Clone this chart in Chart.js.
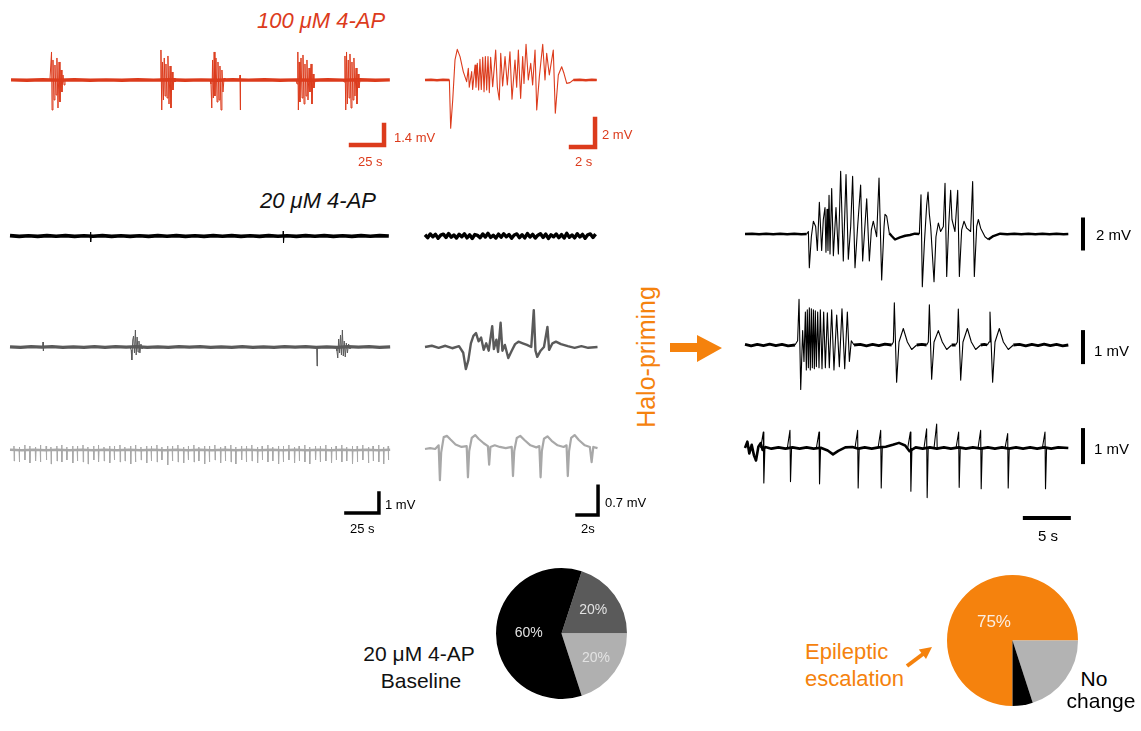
<!DOCTYPE html>
<html><head><meta charset="utf-8">
<script src="https://cdn.jsdelivr.net/npm/chart.js@4.4.0/dist/chart.umd.min.js"></script>
<style>
html,body{margin:0;padding:0;background:#fff;}
body{width:1141px;height:731px;overflow:hidden;position:relative;font-family:"Liberation Sans",Arial,Helvetica,sans-serif;}
canvas{position:absolute;}
.t{position:absolute;white-space:nowrap;line-height:1;}
svg{position:absolute;left:0;top:0;}
</style></head><body>
<svg width="1141" height="731">
  <polygon points="670,343 697,343 697,335 722,348 697,362 697,352 670,352" fill="#f5820d"/>
  <line x1="907" y1="666" x2="923" y2="654" stroke="#f5820d" stroke-width="4"/>
  <polygon points="932,647 926,659 918.8,649.5" fill="#f5820d"/>
</svg>
<script>
// ---------------- DATA (time in s, voltage in mV) ----------------
// 100 uM 4-AP, long recording (red)
const redLongBase = [[0,0.01],[12,-0.02],[24,0.02],[36,-0.01],[48,0.02],[60,-0.02],[72,0.01],[84,-0.02],[96,0.02],[108,-0.01],[120,0.02],[132,-0.02],[144,0.01],[156,-0.02],[168,0.02],[180,-0.01],[192,0.02],[204,-0.02],[216,0.01],[228,-0.02],[240,0.02],[252,-0.01],[264,0.02],[276,-0.02],[287,0.01]];
const redBurst1 = [[29.5,0],[30.7,1.96],[31.1,-2.10],[31.8,1.40],[32.6,-1.40],[33.3,1.05],[34.1,-1.05],[34.8,1.54],[35.6,-1.96],[36.4,1.26],[37.1,-1.54],[37.9,0.70],[38.6,-0.84],[39.4,0.35],[40.2,-0.35],[40.9,0]];
const redBurst2 = [[112.9,0],[113.6,2.10],[114.2,-2.10],[114.8,1.26],[115.5,-1.40],[116.1,1.54],[116.7,-1.12],[117.4,1.12],[118.2,-1.26],[118.9,1.68],[119.7,-1.68],[120.5,0.98],[121.2,-1.96],[122.0,0.56],[122.7,-0.70],[123.5,0.14],[124.2,-0.14],[125.0,0]];
const redBurst3 = [[150.8,0],[151.5,-0.28],[152.1,-1.96],[152.7,1.40],[153.3,-1.26],[153.9,1.96],[154.5,-1.12],[155.3,1.54],[156.1,-1.54],[156.8,1.26],[157.6,-1.40],[158.3,0.98],[159.1,-2.10],[159.8,0.70],[160.6,-0.84],[161.4,0.14],[162.1,0]];
const redSpike = [[173.2,0],[173.5,0.35],[173.7,-2.10],[173.9,0]];
const redBurst4 = [[215.9,0],[216.7,-0.28],[217.3,1.96],[217.7,-2.10],[218.3,1.26],[218.9,-1.54],[219.7,1.54],[220.5,-1.26],[221.2,1.75],[222.0,-1.68],[222.7,1.12],[223.5,-1.12],[224.2,1.40],[225.0,-1.40],[225.8,0.84],[226.5,-0.84],[227.3,1.12],[228.0,-1.68],[228.8,0.42],[229.5,-0.56],[230.3,0]];
const redBurst5 = [[251.5,0],[252.3,-0.14],[253.0,1.68],[253.6,-2.10],[254.2,1.96],[254.8,-1.68],[255.5,1.40],[256.1,-1.26],[256.8,1.82],[257.6,-1.96],[258.3,1.26],[259.1,-1.40],[259.8,1.54],[260.6,-1.12],[261.4,0.84],[262.1,-1.68],[262.9,0.42],[263.6,-0.56],[264.4,0]];
// 100 uM 4-AP, single event (red)
const redZoomQuiet1 = [[0,0],[0.5,0.02],[1.0,-0.02],[1.5,0.02],[2.03,0]];
const redZoomQuiet2 = [[12.36,0],[12.9,0.02],[13.4,-0.02],[13.9,0.02],[14.31,0]];
const redZoom = [[0,0],[2.03,0],[2.14,-3.45],[2.31,-1.43],[2.5,1.43],[2.69,2.19],[2.92,1.67],[3.19,0.60],[3.47,-0.12],[3.61,0.83],[3.69,-0.52],[3.89,0.60],[3.97,-0.67],[4.17,1.07],[4.25,-0.52],[4.36,1.19],[4.47,-0.71],[4.58,1.48],[4.69,-0.67],[4.81,1.62],[4.92,-0.83],[5.03,1.67],[5.14,-0.71],[5.25,1.67],[5.36,-0.90],[5.47,1.62],[5.64,-0.48],[5.89,2.14],[6.03,-0.52],[6.19,-1.43],[6.31,1.90],[6.47,-0.43],[6.67,1.67],[6.86,-0.36],[7.08,2.02],[7.25,-1.38],[7.5,1.43],[7.64,-0.52],[7.78,2.14],[7.97,-1.31],[8.14,1.67],[8.25,-0.24],[8.42,2.55],[8.61,0],[8.81,1.19],[8.97,-0.36],[9.17,2.14],[9.31,-2.14],[9.53,0.24],[9.81,2.55],[10.0,0],[10.14,1.90],[10.36,0.36],[10.69,2.14],[10.86,-2.38],[11.11,0.36],[11.39,0.95],[11.58,0.48],[11.81,-0.24],[12.08,-0.19],[12.36,0],[14.31,0]];

// 20 uM 4-AP baseline, row 1 (black)
const blackLongDt = 7;
const blackLongVals = [0.02,-0.02,0.01,-0.02,0.02,-0.01,0.02,-0.02,0.01,-0.01,0.02,-0.02,0.01,-0.02,0.01,-0.02,0.02,-0.01,0.02,-0.02,0.01,-0.02,0.02,-0.01,0.02,-0.02,0.01,-0.02,0.02,-0.01,0.01,-0.02,0.02,-0.01,0.02,-0.02,0.01,-0.02,0.02,-0.01,0.02,0.0];
const blackLongSpikes = [[61,0.2,-0.3],[207,0.25,-0.35]];
const blackZoomDt = 0.25;
const blackZoomVals = [0.03,-0.04,0.05,-0.02,0.04,-0.055,0.02,0.045,-0.035,0.06,-0.03,0.025,-0.05,0.04,-0.02,0.055,-0.045,0.03,-0.06,0.035,0.015,-0.04,0.05,-0.025,0.065,-0.035,0.02,-0.05,0.045,-0.03,0.055,-0.02,0.035,-0.055,0.025,0.05,-0.04,0.03,-0.045,0.06,-0.025,0.04,-0.05,0.02,0.055,-0.035,0.045,-0.06,0.03,-0.02,0.05,-0.04,0.035,-0.05,0.065,-0.03,0.025,-0.045,0.055,-0.025,0.04,-0.055,0.03,0.05,-0.035,0.045];

// row 2 (dark grey)
const darkLongDt = 8;
const darkLongVals = [0.01,-0.02,0.02,-0.01,0.02,-0.02,0.01,-0.02,0.02,-0.02,0.02,-0.01,0.02,-0.02,0.01,-0.02,0.02,-0.01,0.02,-0.02,0.01,-0.02,0.02,-0.02,0.01,-0.02,0.02,-0.01,0.02,-0.02,0.01,-0.02,0.02,-0.01,0.02,-0.02,0.01];
const darkBlip = [[24.8,0],[25,0.25],[25.2,-0.2],[25.4,0]];
const darkBurst1 = [[91.0,0],[91.8,-0.15],[92.3,-0.65],[93.0,0.35],[93.6,0.55],[94.3,-0.3],[95.0,0.85],[95.6,-0.4],[96.3,0.5],[97.0,-0.25],[97.7,0.3],[98.4,-0.3],[99.2,0.15],[100.0,-0.1],[101,0]];
const darkDown = [[232.3,0],[232.6,-0.95],[232.9,0]];
const darkBurst2 = [[247.0,0],[247.7,-0.2],[248.3,-0.55],[249.0,0.4],[249.7,-0.3],[250.4,0.6],[251.1,-0.4],[251.8,0.85],[252.5,-0.45],[253.2,0.3],[254.0,-0.5],[254.8,0.2],[255.6,-0.3],[256.5,0.15],[257.5,-0.1],[258.5,0]];
const darkZoom = [[0,0],[0.65,0.03],[1.30,-0.02],[1.94,0.03],[2.59,-0.03],[3.24,0.02],[3.64,-0.14],[3.89,-0.54],[4.13,-0.32],[4.37,0.09],[4.61,0.27],[4.86,0.34],[5.10,0.14],[5.34,0.23],[5.59,-0.07],[5.83,0.09],[6.07,-0.09],[6.40,0.51],[6.56,-0.05],[6.80,0.18],[6.96,-0.12],[7.20,0.59],[7.37,-0.09],[7.61,0.05],[7.93,-0.27],[8.26,-0.09],[8.58,0.07],[8.90,0.13],[9.31,0.09],[9.71,0.05],[10.12,0],[10.36,0.90],[10.52,-0.09],[10.69,-0.24],[11.01,-0.09],[11.33,0],[11.66,0.49],[11.82,-0.07],[12.14,0.09],[12.47,0.13],[12.95,0.07],[13.60,0.02],[14.25,-0.02],[14.89,0.02],[15.54,-0.02],[16.43,0]];

// row 3 (light grey)
const lightLongDt = 9;
const lightLongVals = [0.01,-0.015,0.01,-0.01,0.015,-0.01,0.01,-0.015,0.01,-0.01,0.015,-0.01,0.01,-0.015,0.01,-0.01,0.015,-0.01,0.01,-0.015,0.01,-0.01,0.015,-0.01,0.01,-0.015,0.01,-0.01,0.015,-0.01,0.01,-0.015,0.01];
const lightLongSpikes = [[3,0.2,-0.55],[7,0.15,-0.6],[11.2,0.25,-0.5],[15,0.2,-0.65],[19.3,0.15,-0.55],[23,0.25,-0.6],[27.4,0.2,-0.5],[31,0.15,-0.7],[35.5,0.2,-0.55],[39.2,0.25,-0.6],[43,0.15,-0.5],[47.5,0.2,-0.65],[51,0.2,-0.55],[55.3,0.25,-0.6],[59,0.15,-0.7],[63.4,0.2,-0.5],[67,0.25,-0.6],[71.2,0.15,-0.55],[75.5,0.2,-0.65],[79,0.2,-0.5],[83.3,0.25,-0.6],[87,0.15,-0.55],[91.4,0.2,-0.7],[95,0.25,-0.6],[99.2,0.15,-0.5],[103.5,0.2,-0.65],[107,0.2,-0.55],[111.3,0.25,-0.6],[115,0.15,-0.5],[119.4,0.2,-0.75],[123,0.2,-0.55],[127.2,0.25,-0.6],[131.5,0.15,-0.65],[135,0.2,-0.5],[139.3,0.25,-0.6],[143,0.15,-0.55],[147.4,0.2,-0.7],[151,0.2,-0.6],[155.2,0.25,-0.5],[159.5,0.15,-0.65],[163,0.2,-0.55],[167.3,0.25,-0.6],[171,0.15,-0.7],[175.4,0.2,-0.5],[179,0.2,-0.6],[183.2,0.25,-0.55],[187.5,0.15,-0.65],[191,0.2,-0.5],[195.3,0.25,-0.6],[199,0.15,-0.55],[203.4,0.2,-0.7],[207,0.2,-0.6],[211.2,0.25,-0.5],[215.5,0.15,-0.65],[219,0.2,-0.55],[223.3,0.25,-0.6],[227,0.15,-0.7],[231.4,0.2,-0.5],[235,0.2,-0.6],[239.2,0.25,-0.55],[243.5,0.15,-0.65],[247,0.2,-0.5],[251.3,0.25,-0.6],[255,0.15,-0.55],[259.4,0.2,-0.7],[263,0.2,-0.6],[267.2,0.25,-0.5],[271.5,0.15,-0.65],[275,0.2,-0.55],[279.3,0.25,-0.6],[283,0.15,-0.7],[286.5,0.2,-0.5]];
const lightZoom = [[0,0],[0.49,0.02],[0.97,0],[1.30,0.09],[1.42,-0.76],[1.54,-0.09],[1.78,0.29],[2.10,0.32],[2.43,0.23],[2.91,0.11],[3.48,0.05],[3.97,0.07],[4.09,-0.69],[4.21,-0.05],[4.45,0.27],[4.78,0.34],[5.10,0.25],[5.59,0.14],[5.99,0.07],[6.11,-0.38],[6.23,0.05],[6.64,0.09],[7.12,0.05],[7.69,0.02],[8.26,0.05],[8.38,-0.66],[8.50,-0.05],[8.74,0.27],[9.07,0.32],[9.47,0.22],[10.04,0.09],[10.60,0.04],[10.89,0.07],[11.01,-0.69],[11.13,-0.05],[11.33,0.25],[11.66,0.31],[12.06,0.20],[12.63,0.09],[13.20,0.05],[13.48,0.09],[13.60,-0.66],[13.72,-0.05],[13.92,0.27],[14.25,0.34],[14.65,0.22],[15.22,0.09],[15.70,0.05],[15.87,-0.32],[16.03,0.05],[16.43,0.02]];

// after Halo-priming, trace A (2 mV)
const traceABase = [[0,0],[0.8,0.02],[1.6,-0.02],[2.4,0.015],[3.2,-0.02],[4.0,0.02],[4.8,-0.015],[5.6,0.02],[6.4,-0.02],[7.01,0],[7.05,null],[16.40,0.05],[16.67,-0.14],[17.05,-0.38],[17.61,-0.24],[18.2,-0.12],[18.75,-0.07],[19.3,0.02],[19.81,0],[19.85,null],[27.65,-0.38],[28.22,-0.14],[29.0,0.02],[29.8,-0.02],[30.6,0.02],[31.4,-0.015],[32.2,0.02],[33.0,-0.02],[33.8,0.015],[34.6,-0.02],[35.4,0.02],[36.2,-0.015],[36.74,0]];
const traceABurst1 = [[7.01,0],[7.20,0.17],[7.31,-2.33],[7.54,-0.19],[7.77,0.88],[8.03,0.52],[8.22,-1.14],[8.45,2.19],[8.71,-1.14],[8.90,1.0],[9.09,1.83],[9.20,-1.26],[9.32,1.71],[9.43,-1.14],[9.55,2.67],[9.66,-1.38],[9.85,3.14],[10.04,-1.50],[10.34,1.83],[10.61,-1.38],[10.87,4.33],[11.17,-1.86],[11.48,4.10],[11.74,-1.74],[12.01,0.52],[12.23,3.98],[12.5,-2.33],[12.80,0.52],[13.14,3.38],[13.37,-1.86],[13.60,0.29],[13.83,2.43],[14.13,-1.86],[14.36,0.29],[14.58,0.88],[14.96,-0.19],[15.23,3.86],[15.53,-3.17],[15.80,0.52],[15.91,1.36],[16.10,1.24],[16.40,0.05]];
const traceABurst2 = [[19.81,0],[20.0,2.71],[20.15,-3.64],[20.38,-0.67],[20.64,1.95],[20.80,2.90],[20.95,1.36],[21.10,0.52],[21.48,-3.29],[21.70,-0.19],[21.97,0.76],[22.23,0.17],[22.54,0.52],[22.73,3.5],[22.92,-2.93],[23.14,0.52],[23.37,3.02],[23.52,1.0],[23.86,0.17],[24.17,3.02],[24.36,-2.93],[24.62,0.29],[24.89,0.88],[25.19,0.40],[25.64,0.17],[25.87,3.62],[26.06,-2.93],[26.33,0.52],[26.52,1.0],[26.78,0.40],[27.27,-0.19],[27.65,-0.38]];
// trace B (1 mV)
const traceBBase = [[0,0.02],[0.7,-0.03],[1.4,0.02],[2.1,-0.02],[2.8,0.03],[3.5,-0.02],[4.2,0.02],[4.9,-0.03],[5.68,0],[5.7,null],[12.39,0],[13.1,0.02],[13.8,-0.03],[14.5,0.02],[15.2,-0.02],[15.9,0.03],[16.67,0],[16.7,null],[19.51,0],[20.1,0.02],[20.64,0],[20.7,null],[23.48,0],[23.94,0],[24.0,null],[26.78,0],[27.2,0.02],[27.54,0],[27.6,null],[30.49,0],[31.2,0.02],[31.9,-0.03],[32.6,0.02],[33.3,-0.02],[34.0,0.03],[34.7,-0.02],[35.4,0.02],[36.1,-0.03],[36.74,0]];
const traceBEvents = [[5.68,0],[5.98,0.14],[6.14,1.52],[6.33,-1.48],[6.55,0.48],[6.70,-0.55],[6.86,1.10],[6.97,-0.83],[7.08,1.17],[7.20,-0.76],[7.31,1.24],[7.42,-0.83],[7.54,1.21],[7.65,-0.76],[7.77,1.17],[7.88,-0.79],[7.99,1.14],[8.11,-0.72],[8.26,1.10],[8.41,-0.76],[8.56,1.17],[8.75,-0.79],[8.94,1.10],[9.13,-0.76],[9.36,1.07],[9.58,-0.76],[9.85,1.17],[10.11,-0.83],[10.42,1.0],[10.72,-0.72],[11.02,1.21],[11.33,-0.79],[11.63,1.10],[11.86,-0.55],[12.08,0.14],[12.39,0],[12.4,null],
 [16.67,0],[16.86,0.1],[16.97,1.41],[17.23,-1.24],[17.5,0.1],[17.99,0.55],[18.45,0.1],[18.94,-0.15],[19.51,0],[19.52,null],
 [20.64,0],[20.83,0.1],[20.95,1.34],[21.21,-1.14],[21.48,0.1],[21.97,0.48],[22.42,0.1],[22.92,-0.15],[23.48,0],[23.49,null],
 [23.94,0],[24.13,0.1],[24.24,1.2],[24.51,-1.17],[24.77,0.1],[25.27,0.55],[25.72,0.1],[26.21,-0.15],[26.78,0],[26.79,null],
 [27.54,0],[27.73,0.1],[27.84,1.1],[28.14,-1.24],[28.41,0.1],[28.9,0.55],[29.36,0.1],[29.92,-0.15],[30.49,0]];
// trace C (1 mV)
const traceCBase = [[0,0],[0.27,0.2],[0.49,-0.17],[0.76,0.1],[1.02,-0.23],[1.25,-0.39],[1.52,0.04],[1.78,0.15],[2.0,-0.06],[2.3,0.03],[3.0,-0.02],[3.8,0.02],[4.6,-0.02],[5.4,0.02],[6.2,-0.02],[7.0,0.02],[7.8,-0.02],[8.6,0.01],[9.4,-0.08],[10.0,-0.2],[10.6,-0.09],[11.4,0.02],[12.2,0.03],[12.9,-0.02],[13.6,0.02],[14.4,-0.02],[15.2,0.02],[16.0,0.04],[16.8,0.1],[17.5,0.16],[18.2,0.08],[18.7,-0.1],[19.4,0.02],[20.2,-0.02],[21.0,0.02],[21.8,-0.02],[22.6,0.02],[23.4,-0.02],[24.3,0.02],[25.1,-0.02],[25.9,0.02],[26.8,-0.02],[27.6,0.02],[28.4,-0.02],[29.2,0.02],[30.0,-0.02],[30.8,0.02],[31.6,-0.02],[32.4,0.02],[33.2,-0.02],[34.0,0.02],[34.8,-0.02],[35.6,0.02],[36.74,0]];
const traceCSpikes = [[2.08,0.5,-1.09],[5.11,0.55,-1.05],[8.41,0.5,-1.12],[12.80,0.55,-1.25],[15.42,0.55,-1.25],[18.79,0.5,-1.35],[20.64,0.6,-1.55],[21.78,0.75,0],[24.28,0.5,-1.23],[26.78,0.55,-1.27],[29.85,0.45,-1.25],[34.09,0.5,-1.27]];

// pies
const baselineLabels = ['20%','20%','60%'];
const baselineValues = [20,20,60];
const haloLabels = ['75%','',''];
const haloValues = [75,20,5];

// ---------------- COLOURS / STYLE ----------------
const RED = '#dc3b1c', ORANGE = '#f5820d', DARK = '#5a5a5a', LIGHT = '#a8a8a8';

// ---------------- HELPERS ----------------
function pts(arr){ return arr.map(p => ({x:p[0], y:p[1]})); }
function sampled(vals, dt){ return vals.map((v,i) => [i*dt, v]); }
function spikes(list, rise, fall){
  const out = [];
  list.forEach(([t,up,down]) => { out.push([t-rise,0],[t,up],[t+fall,down],[t+fall*3,0],[t+fall*3+0.001,null]); });
  return out;
}
function ds(arr, color, width){
  return {data: pts(arr), borderColor: color, borderWidth: width, fill:false, pointRadius:0, tension:0,
          spanGaps:false, borderJoinStyle:'round', borderCapStyle:'butt', clip:false};
}
function bar(arr, color, width){
  const d = ds(arr, color, width); d.borderJoinStyle='miter'; d.borderCapStyle='square'; return d;
}
function trace(box, cal, datasets){
  const c = document.createElement('canvas');
  c.width = box.w; c.height = box.h;
  c.style.left = box.l + 'px'; c.style.top = box.t + 'px';
  c.style.width = box.w + 'px'; c.style.height = box.h + 'px';
  document.body.appendChild(c);
  const xmin = -(cal.x0 - box.l) / cal.pxS, xmax = xmin + box.w / cal.pxS;
  const ymax = (cal.y0 - box.t) / cal.pxMV, ymin = ymax - box.h / cal.pxMV;
  new Chart(c, {type:'line', data:{datasets},
    options:{responsive:false, animation:false, events:[], devicePixelRatio:1,
      layout:{padding:0},
      plugins:{legend:{display:false}, tooltip:{enabled:false}},
      scales:{x:{type:'linear', display:false, min:xmin, max:xmax},
              y:{type:'linear', display:false, min:ymin, max:ymax}}}});
}
function label(text, x, base, size, color, opt){
  opt = opt || {};
  const d = document.createElement('div');
  d.className = 't'; d.textContent = text;
  d.style.fontSize = size + 'px'; d.style.color = color;
  if (opt.italic) d.style.fontStyle = 'italic';
  d.style.top = (base - 0.85*size) + 'px';
  d.style.left = x + 'px';
  if (opt.center) d.style.transform = 'translateX(-50%)';
  document.body.appendChild(d);
}

// ---------------- TRACES ----------------
trace({l:5,t:40,w:395,h:115}, {x0:11,y0:80,pxS:1.32,pxMV:14.3}, [
  ds(redLongBase, RED, 3.4),
  ds(redBurst1, RED, 1), ds(redBurst2, RED, 1), ds(redBurst3, RED, 1), ds(redSpike, RED, 1),
  ds(redBurst4, RED, 1), ds(redBurst5, RED, 1),
  bar([[257.6,-4.55],[282.6,-4.55],[282.6,-3.15]], RED, 4.5)
]);
trace({l:415,t:35,w:190,h:120}, {x0:425,y0:80,pxS:12,pxMV:14}, [
  ds(redZoomQuiet1, RED, 2.6), ds(redZoomQuiet2, RED, 2.6),
  ds(redZoom, RED, 1.1),
  bar([[12.17,-4.79],[14.17,-4.79],[14.17,-2.79]], RED, 4.5)
]);
trace({l:5,t:222,w:395,h:28}, {x0:10,y0:236,pxS:1.32,pxMV:20}, [
  ds(sampled(blackLongVals, blackLongDt), '#000', 3.6),
  ds(spikes(blackLongSpikes, 0.2, 0.2), '#000', 1)
]);
trace({l:420,t:222,w:185,h:28}, {x0:425,y0:236,pxS:10.5,pxMV:41}, [
  ds(sampled(blackZoomVals, blackZoomDt), '#000', 3.4)
]);
trace({l:5,t:320,w:395,h:55}, {x0:10,y0:347,pxS:1.32,pxMV:20}, [
  ds(sampled(darkLongVals, darkLongDt), DARK, 3.2),
  ds(darkBlip, DARK, 1), ds(darkBurst1, DARK, 1), ds(darkDown, DARK, 1), ds(darkBurst2, DARK, 1)
]);
trace({l:420,t:300,w:185,h:85}, {x0:425,y0:347,pxS:10.5,pxMV:41}, [
  ds(darkZoom, DARK, 2.4)
]);
trace({l:5,t:430,w:395,h:95}, {x0:10,y0:450,pxS:1.32,pxMV:20}, [
  ds(sampled(lightLongVals, lightLongDt), LIGHT, 2.6),
  ds(spikes(lightLongSpikes, 0.15, 0.15), LIGHT, 1),
  bar([[254.5,-3.15],[279.5,-3.15],[279.5,-2.15]], '#000', 3.5)
]);
trace({l:420,t:430,w:185,h:95}, {x0:425,y0:449,pxS:10.5,pxMV:41}, [
  ds(lightZoom, LIGHT, 2.2),
  bar([[14.48,-1.61],[16.48,-1.61],[16.48,-0.91]], '#000', 3.5)
]);
trace({l:740,t:160,w:360,h:135}, {x0:745,y0:234,pxS:8.8,pxMV:14.5}, [
  ds(traceABase, '#000', 2.4), ds(traceABurst1, '#000', 1.1), ds(traceABurst2, '#000', 1.1),
  bar([[38.41,-1.0],[38.41,1.0]], '#000', 4)
]);
trace({l:740,t:290,w:360,h:105}, {x0:745,y0:345,pxS:8.8,pxMV:30}, [
  ds(traceBBase, '#000', 2.8), ds(traceBEvents, '#000', 1.1),
  bar([[38.41,-0.57],[38.41,0.43]], '#000', 4)
]);
trace({l:740,t:415,w:360,h:115}, {x0:745,y0:448,pxS:8.8,pxMV:32}, [
  ds(traceCBase, '#000', 2.6), ds(spikes(traceCSpikes, 0.3, 0.06), '#000', 1.1),
  bar([[38.41,-0.44],[38.41,0.56]], '#000', 4),
  bar([[31.8,-2.19],[36.8,-2.19]], '#000', 4)
]);

// ---------------- PIES ----------------
const pieLabelPlugin = {
  id:'pieLabels',
  afterDatasetsDraw(chart, args, opts){
    const ctx = chart.ctx, meta = chart.getDatasetMeta(0);
    ctx.save();
    ctx.font = opts.font; ctx.fillStyle = opts.color;
    ctx.textAlign = 'center'; ctx.textBaseline = 'middle';
    meta.data.forEach((arc, i) => {
      const txt = opts.texts[i]; if (!txt) return;
      const p = arc.getProps(['x','y','startAngle','endAngle','outerRadius'], true);
      const a = (p.startAngle + p.endAngle) / 2, r = p.outerRadius * opts.fracs[i];
      ctx.fillText(txt, p.x + Math.cos(a)*r, p.y + Math.sin(a)*r);
    });
    ctx.restore();
  }
};
function pie(box, values, colors, rotation, labelOpts){
  const c = document.createElement('canvas');
  c.width = box.w; c.height = box.h;
  c.style.left = box.l + 'px'; c.style.top = box.t + 'px';
  document.body.appendChild(c);
  new Chart(c, {type:'pie', data:{labels: values.map((v,i)=>String(i)), datasets:[{data: values, backgroundColor: colors, borderWidth:0}]},
    options:{responsive:false, animation:false, events:[], devicePixelRatio:1, rotation, layout:{padding:0},
      plugins:{legend:{display:false}, tooltip:{enabled:false}, pieLabels: labelOpts}},
    plugins:[pieLabelPlugin]});
}
pie({l:496,t:568,w:131,h:131}, baselineValues, ['#5a5a5a','#b0b0b0','#000000'], 18,
    {texts: baselineLabels, fracs:[0.6,0.65,0.5], color:'#e2e2e2', font:'14px "Liberation Sans", Arial, sans-serif'});
pie({l:947,t:575,w:131,h:131}, haloValues, [ORANGE,'#b3b3b3','#000000'], 180,
    {texts: haloLabels, fracs:[0.4,0,0], color:'#fbeee2', font:'17px "Liberation Sans", Arial, sans-serif'});

// ---------------- TEXT ----------------
label('100 \u03bcM 4-AP', 257, 29, 22, RED, {italic:true});
label('20 \u03bcM 4-AP', 260, 209, 22, '#111', {italic:true});
label('1.4 mV', 394, 142.5, 13, RED);
label('25 s', 358, 166.5, 13, RED);
label('2 mV', 602, 139.5, 13, RED);
label('2 s', 575, 166.5, 13, RED);
label('1 mV', 385, 509.5, 13, '#000');
label('25 s', 350, 533.5, 13, '#000');
label('0.7 mV', 605, 507.5, 13, '#000');
label('2s', 581, 533.5, 13, '#000');
label('2 mV', 1096, 239.5, 15, '#000');
label('1 mV', 1094, 355.5, 15, '#000');
label('1 mV', 1094, 453.5, 15, '#000');
label('5 s', 1038, 540.5, 15, '#000');
label('20 \u03bcM 4-AP', 419, 661, 21, '#111', {center:true});
label('Baseline', 421, 688, 21, '#111', {center:true});
label('Epileptic', 805, 660, 22, ORANGE);
label('escalation', 805, 687, 22, ORANGE);
label('No', 1094, 686, 21, '#000', {center:true});
label('change', 1101, 708, 21, '#000', {center:true});
(function(){
  const d = document.createElement('div');
  d.className = 't'; d.textContent = 'Halo-priming';
  d.style.fontSize = '25px'; d.style.color = ORANGE;
  d.style.left = '646px'; d.style.top = '357px';
  d.style.transform = 'translate(-50%,-50%) rotate(-90deg)';
  document.body.appendChild(d);
})();
</script>
</body></html>
